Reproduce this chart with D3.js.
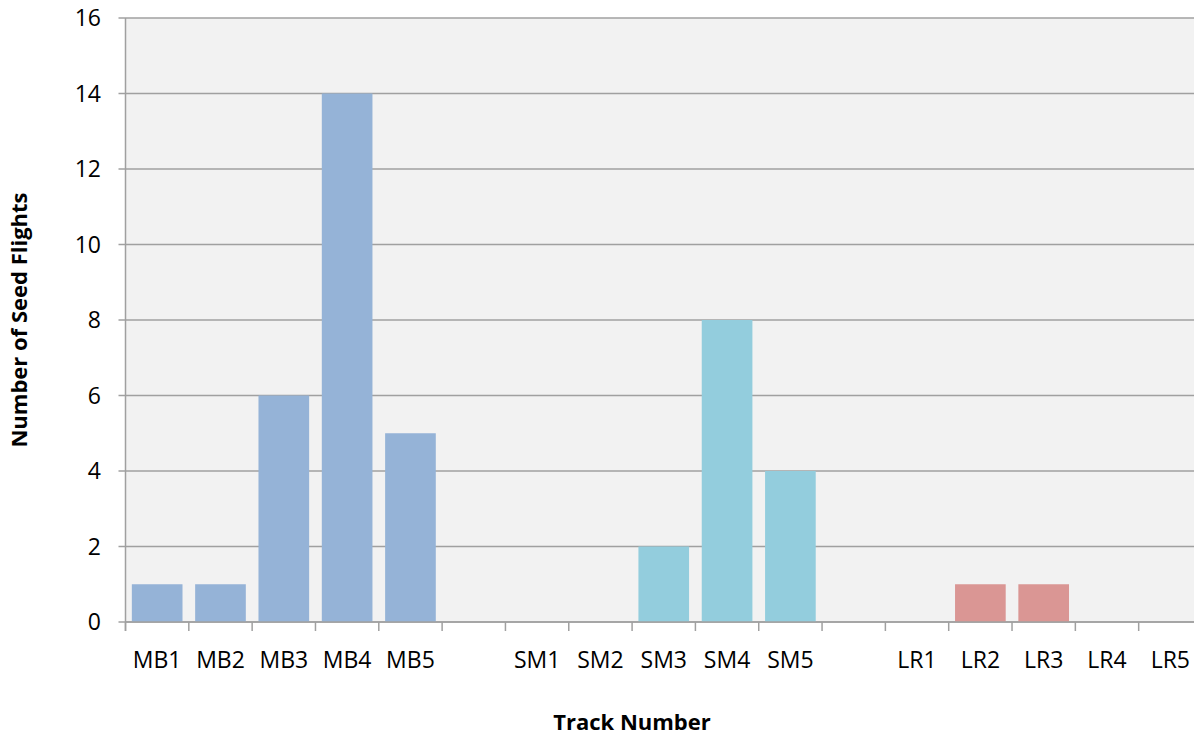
<!DOCTYPE html>
<html>
<head>
<meta charset="utf-8">
<script src="https://cdn.jsdelivr.net/npm/d3@7"></script>
<style>
  body { margin: 0; background: #fff; }
  svg { display: block; font-family: "Open Sans", "Noto Sans", sans-serif; }
</style>
</head>
<body>
<svg id="chart" width="1194" height="738"></svg>
<script>
const tracks = ["MB1","MB2","MB3","MB4","MB5","gap1","SM1","SM2","SM3","SM4","SM5","gap2","LR1","LR2","LR3","LR4","LR5"];
const flights = [1,1,6,14,5,0,0,0,2,8,4,0,0,1,1,0,0];
const groups = ["MB","MB","MB","MB","MB","","SM","SM","SM","SM","SM","","LR","LR","LR","LR","LR"];
const yTicks = [0,2,4,6,8,10,12,14,16];

const groupColor = {MB: "#95B3D7", SM: "#93CDDD", LR: "#DA9694"};

const margin = {top: 18, left: 125.5, bottom: 116};
const plotRight = 1202;
const height = 738 - margin.top - margin.bottom;

const svg = d3.select("#chart");

const x = d3.scaleBand().domain(tracks).range([margin.left, plotRight]).paddingInner(0.2).paddingOuter(0.1);
const y = d3.scaleLinear().domain([0, 16]).range([margin.top + height, margin.top]);
const step = (plotRight - margin.left) / tracks.length;

// plot background
svg.append("rect")
    .attr("x", margin.left).attr("y", y(16))
    .attr("width", plotRight - margin.left).attr("height", y(0) - y(16))
    .attr("fill", "#F2F2F2");

// gridlines + y ticks
svg.append("g").selectAll("line")
    .data(yTicks)
    .enter().append("line")
    .attr("x1", margin.left - 7).attr("x2", plotRight)
    .attr("y1", d => y(d)).attr("y2", d => y(d))
    .attr("stroke", "#A0A0A0").attr("stroke-width", 1.5);

svg.append("g").selectAll("text")
    .data(yTicks)
    .enter().append("text")
    .attr("x", 101).attr("y", d => y(d))
    .attr("dy", "0.35em")
    .attr("text-anchor", "end")
    .style("font-size", "23px")
    .attr("fill", "#000")
    .text(d => d);

// bars
svg.append("g").selectAll("rect")
    .data(tracks.map((t, i) => ({track: t, value: flights[i], group: groups[i]})))
    .enter().append("rect")
    .attr("x", d => x(d.track))
    .attr("y", d => y(d.value))
    .attr("width", x.bandwidth())
    .attr("height", d => y(0) - y(d.value))
    .attr("fill", d => groupColor[d.group] || "none");

// axes lines
svg.append("line")
    .attr("x1", margin.left).attr("x2", margin.left)
    .attr("y1", y(16)).attr("y2", y(0) + 9)
    .attr("stroke", "#A0A0A0").attr("stroke-width", 1.5);
svg.append("line")
    .attr("x1", margin.left).attr("x2", plotRight)
    .attr("y1", y(0)).attr("y2", y(0))
    .attr("stroke", "#A0A0A0").attr("stroke-width", 1.5);

// x ticks at slot boundaries
svg.append("g").selectAll("line")
    .data(d3.range(tracks.length + 1))
    .enter().append("line")
    .attr("x1", i => margin.left + i * step).attr("x2", i => margin.left + i * step)
    .attr("y1", y(0)).attr("y2", y(0) + 9)
    .attr("stroke", "#A0A0A0").attr("stroke-width", 1.5);

// x labels
svg.append("g").selectAll("text")
    .data(tracks)
    .enter().append("text")
    .attr("x", d => x(d) + x.bandwidth() / 2)
    .attr("y", 660)
    .attr("dy", "0.35em")
    .attr("text-anchor", "middle")
    .style("font-size", "23px")
    .text(d => d.startsWith("gap") ? "" : d);

// axis titles
svg.append("text")
    .attr("x", 632).attr("y", 722)
    .attr("dy", "0.35em")
    .attr("text-anchor", "middle")
    .style("font-size", "22px").style("font-weight", "bold")
    .text("Track Number");

svg.append("text")
    .attr("transform", "translate(19," + (margin.top + height / 2) + ") rotate(-90)")
    .attr("dy", "0.35em")
    .attr("text-anchor", "middle")
    .style("font-size", "22px").style("font-weight", "bold")
    .text("Number of Seed Flights");
</script>
</body>
</html>
